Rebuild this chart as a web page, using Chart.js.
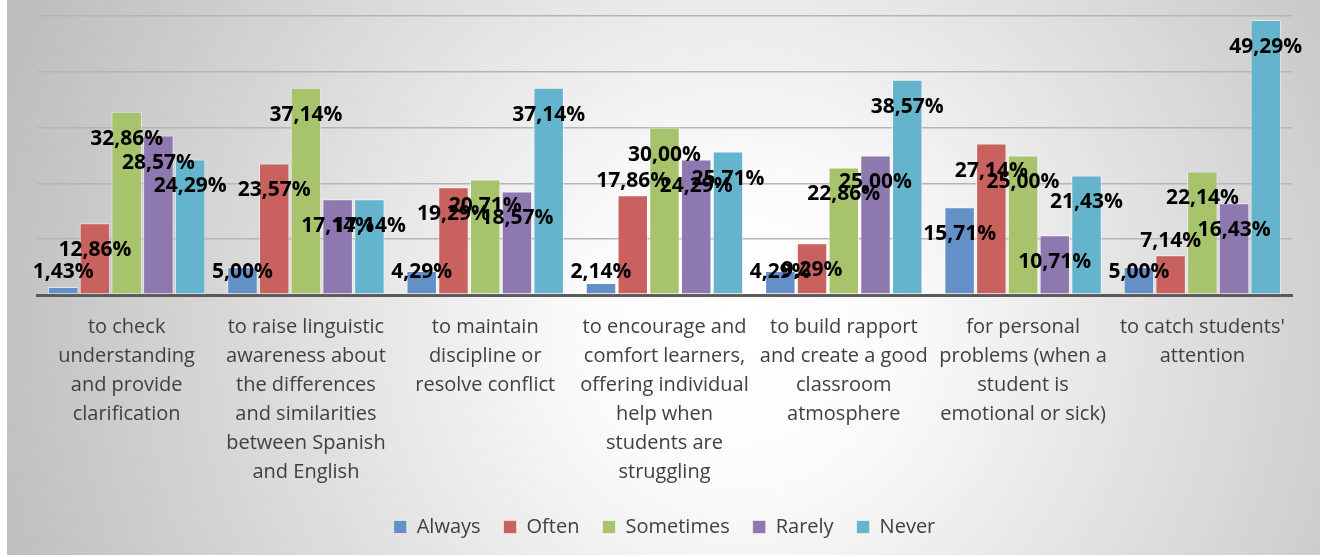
<!DOCTYPE html>
<html>
<head>
<meta charset="utf-8">
<script src="https://cdn.jsdelivr.net/npm/chart.js@4.4.1/dist/chart.umd.min.js"></script>
<style>
  html, body { margin: 0; padding: 0; background: #fff; }
  .chart-box { width: 1320px; height: 557px; position: relative; }
</style>
</head>
<body>
<div class="chart-box"><canvas id="bar-chart"></canvas></div>
<script>
// categories (already broken into lines like the original)
const categories = [
  ['to check', 'understanding', 'and provide', 'clarification'],
  ['to raise linguistic', 'awareness about', 'the differences', 'and similarities', 'between Spanish', 'and English'],
  ['to maintain', 'discipline or', 'resolve conflict'],
  ['to encourage and', 'comfort learners,', 'offering individual', 'help when', 'students are', 'struggling'],
  ['to build rapport', 'and create a good', 'classroom', 'atmosphere'],
  ['for personal', 'problems (when a', 'student is', 'emotional or sick)'],
  ["to catch students'", 'attention']
];

const always    = [1.43, 5.00, 4.29, 2.14, 4.29, 15.71, 5.00];
const often     = [12.86, 23.57, 19.29, 17.86, 9.29, 27.14, 7.14];
const sometimes = [32.86, 37.14, 20.71, 30.00, 22.86, 25.00, 22.14];
const rarely    = [28.57, 17.14, 18.57, 24.29, 25.00, 10.71, 16.43];
const never     = [24.29, 17.14, 37.14, 25.71, 38.57, 21.43, 49.29];

const seriesNames = ['Always', 'Often', 'Sometimes', 'Rarely', 'Never'];
const yTicks = [0, 10, 20, 30, 40, 50];

const colors = ['#6490c8', '#c9625e', '#a7c36b', '#8e78b0', '#63b4cc'];

// labels that sit above the bar instead of inside (dataset, index)
const labelsAbove = ['1-3', '1-6'];

const fmt = v => v.toFixed(2).replace('.', ',') + '%';

// page background (grey radial like the office chart)
const bgPlugin = {
  id: 'bg',
  beforeDraw(chart) {
    const { ctx, width, height } = chart;
    ctx.save();
    ctx.fillStyle = '#ffffff';
    ctx.fillRect(0, 0, width, height);
    const g = ctx.createRadialGradient(740, 330, 0, 740, 330, 780);
    g.addColorStop(0, '#ffffff');
    g.addColorStop(0.2, '#fbfbfb');
    g.addColorStop(1, '#bdbdbd');
    ctx.fillStyle = g;
    ctx.fillRect(7, 0, width - 7, height - 2);
    ctx.restore();
  }
};

// value labels
const valuePlugin = {
  id: 'values',
  afterDatasetsDraw(chart) {
    const { ctx } = chart;
    const zero = chart.scales.y.getPixelForValue(0);
    ctx.save();
    ctx.font = 'bold 21px "Open Sans"';
    ctx.fillStyle = '#000';
    ctx.textAlign = 'center';
    ctx.textBaseline = 'middle';
    chart.data.datasets.forEach((ds, di) => {
      chart.getDatasetMeta(di).data.forEach((bar, i) => {
        let y = Math.min(bar.y + 27, zero - 23);
        if (labelsAbove.includes(di + '-' + i)) y = bar.y - 14;
        ctx.fillText(fmt(ds.data[i]), bar.x, y);
      });
    });
    ctx.restore();
  }
};

const ctxBar = document.getElementById('bar-chart');

new Chart(ctxBar, {
  type: 'bar',
  data: {
    labels: categories,
    datasets: [always, often, sometimes, rarely, never].map((d, k) => ({
      label: seriesNames[k],
      data: d,
      backgroundColor: colors[k],
      borderColor: 'rgba(255,255,255,0.55)',
      borderWidth: 1,
      borderSkipped: false,
      categoryPercentage: 0.885,
      barPercentage: 0.96
    }))
  },
  options: {
    responsive: true,
    maintainAspectRatio: false,
    animation: false,
    layout: {
      padding: { left: 37, right: 28, top: 16, bottom: 10 }
    },
    plugins: {
      legend: {
        position: 'bottom',
        labels: {
          boxWidth: 13,
          boxHeight: 13,
          color: '#404040',
          padding: 23,
          font: { family: 'Open Sans', size: 20 }
        }
      },
      tooltip: { enabled: false }
    },
    scales: {
      x: {
        afterFit: axis => { axis.height = 199; },
        grid: { display: false, drawTicks: false },
        border: { display: true, color: '#5a5a5a', width: 3 },
        ticks: {
          color: '#404040',
          padding: 18,
          autoSkip: false,
          maxRotation: 0,
          font: { family: 'Open Sans', size: 20, lineHeight: 1.45 }
        }
      },
      y: {
        min: yTicks[0],
        max: yTicks[yTicks.length - 1],
        afterBuildTicks: axis => { axis.ticks = yTicks.map(v => ({ value: v })); },
        border: { display: false },
        grid: { color: '#b5b5b5', lineWidth: 1.5, drawTicks: false },
        ticks: { display: false }
      }
    }
  },
  plugins: [bgPlugin, valuePlugin]
});
</script>
</body>
</html>
